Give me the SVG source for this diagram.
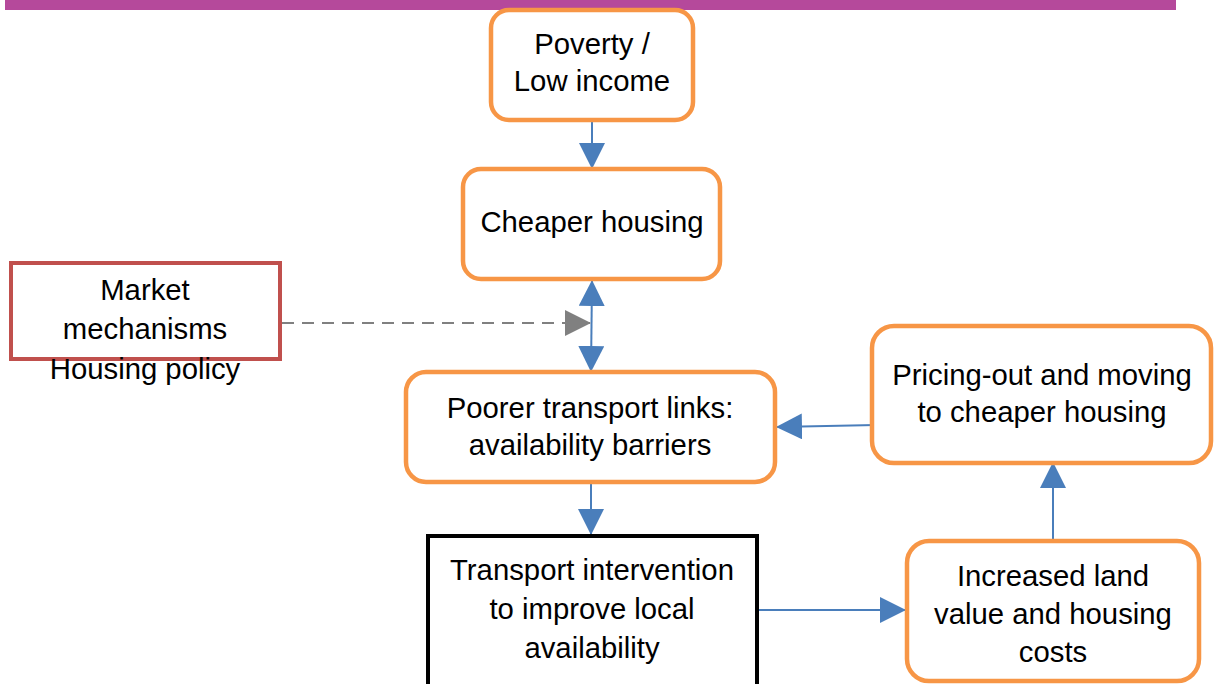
<svg xmlns="http://www.w3.org/2000/svg" width="1214" height="684" viewBox="0 0 1214 684">
<style>
text{font-family:"Liberation Sans",Arial,sans-serif;font-size:29.3px;fill:#000;text-anchor:middle}
.ob{fill:#fff;stroke:#F79646;stroke-width:4.5}
.conn{stroke:#4A7EBB;stroke-width:2;fill:none}
</style>
<defs>
<marker id="ah" markerUnits="userSpaceOnUse" markerWidth="26" markerHeight="26" viewBox="0 0 26 26" refX="25" refY="13" orient="auto-start-reverse">
<path d="M0,0 L26,13 L0,26 Z" fill="#4A7EBB"/>
</marker>
<marker id="ahg" markerUnits="userSpaceOnUse" markerWidth="26" markerHeight="26" viewBox="0 0 26 26" refX="25" refY="13" orient="auto">
<path d="M0,0 L26,13 L0,26 Z" fill="#808080"/>
</marker>
</defs>
<rect x="5" y="0" width="1171" height="10" fill="#B5499B"/>
<g id="connectors">
<line class="conn" x1="592" y1="121" x2="592" y2="168" marker-end="url(#ah)"/>
<line class="conn" x1="592" y1="281" x2="591" y2="371" marker-start="url(#ah)" marker-end="url(#ah)"/>
<line x1="282" y1="323" x2="590" y2="323" stroke="#808080" stroke-width="2" stroke-dasharray="12,8" marker-end="url(#ahg)"/>
<line class="conn" x1="591" y1="483" x2="591" y2="534" marker-end="url(#ah)"/>
<line class="conn" x1="757" y1="610" x2="905" y2="610" marker-end="url(#ah)"/>
<line class="conn" x1="1053" y1="539" x2="1053" y2="463" marker-end="url(#ah)"/>
<line class="conn" x1="876" y1="425" x2="777" y2="427" marker-end="url(#ah)"/>
</g>
<g id="poverty">
<rect class="ob" x="491" y="10" width="202" height="110" rx="18"/>
<text x="592" y="54">Poverty /</text>
<text x="592" y="91">Low income</text>
</g>
<g id="cheaper-housing">
<rect class="ob" x="463" y="169" width="257" height="110" rx="18"/>
<text x="592" y="232">Cheaper housing</text>
</g>
<g id="market">
<rect x="11" y="263" width="269" height="96" fill="#fff" stroke="#C0504D" stroke-width="4"/>
<text x="145" y="300">Market</text>
<text x="145" y="339">mechanisms</text>
<text x="145" y="379">Housing policy</text>
</g>
<g id="poorer-transport">
<rect class="ob" x="406" y="372" width="369" height="110" rx="20"/>
<text x="590" y="418">Poorer transport links:</text>
<text x="590" y="455">availability barriers</text>
</g>
<g id="transport-intervention">
<rect x="428" y="536" width="329" height="160" fill="#fff" stroke="#000" stroke-width="4"/>
<text x="592" y="580">Transport intervention</text>
<text x="592" y="619">to improve local</text>
<text x="592" y="658">availability</text>
</g>
<g id="increased-land">
<rect class="ob" x="907" y="541" width="292" height="140" rx="22"/>
<text x="1053" y="586">Increased land</text>
<text x="1053" y="624">value and housing</text>
<text x="1053" y="662">costs</text>
</g>
<g id="pricing-out">
<rect class="ob" x="872" y="326" width="339" height="137" rx="22"/>
<text x="1042" y="385">Pricing-out and moving</text>
<text x="1042" y="422">to cheaper housing</text>
</g>
</svg>
